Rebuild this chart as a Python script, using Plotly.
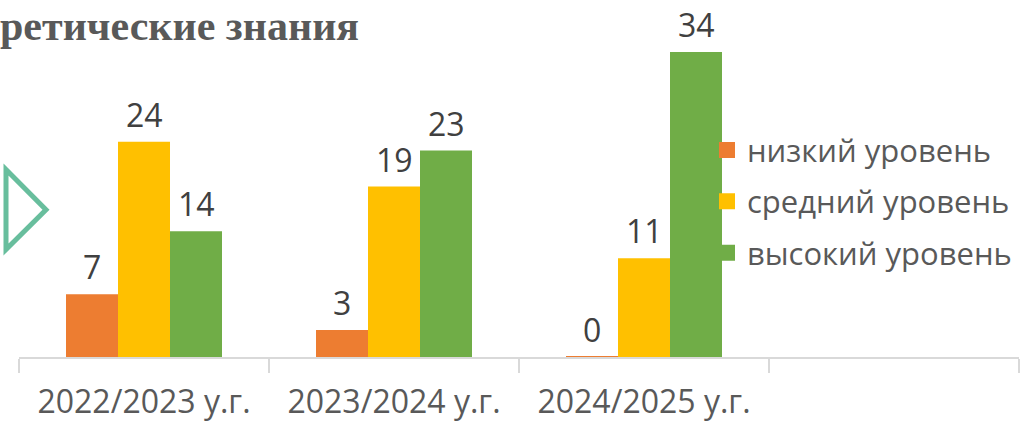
import plotly.graph_objects as go

categories = ["2022/2023 у.г.", "2023/2024 у.г.", "2024/2025 у.г.", " "]
series_names = ["низкий уровень", "средний уровень", "высокий уровень"]
low = [7, 3, 0, None]
mid = [24, 19, 11, None]
high = [14, 23, 34, None]
colors = ["#ED7D31", "#FFC000", "#70AD47"]
title_text = "ретические знания"

BARGAP = 0.376
n_series = len(series_names)
bar_w = (1 - BARGAP) / n_series

fig = go.Figure()
annotations = []
for k, (name, vals, col) in enumerate(zip(series_names, [low, mid, high], colors)):
    fig.add_trace(go.Bar(
        x=categories, y=vals, name=name, showlegend=False,
        marker=dict(color=col,
                    line=dict(color=col, width=[2 if v == 0 else 0 for v in vals])),
    ))
    for i, v in enumerate(vals):
        if v is None:
            continue
        annotations.append(dict(
            x=i + (k - (n_series - 1) / 2) * bar_w, y=v, xref="x", yref="y",
            text=str(v), showarrow=False, xanchor="center", yanchor="bottom", yshift=5,
            borderpad=0,
            font=dict(family="Open Sans", size=32, color="#404040")))
# legend entries with larger square swatches
for name, col in zip(series_names, colors):
    fig.add_trace(go.Scatter(
        x=[None], y=[None], name=name, mode="markers",
        marker=dict(symbol="square", size=16, color=col, line=dict(width=0)),
        legendgroup=name,
    ))

annotations.append(dict(text="<b>" + title_text + "</b>", x=0, y=1, xref="paper", yref="paper",
                        xanchor="left", yanchor="top", xshift=-21, yshift=15, showarrow=False,
                        font=dict(family="Liberation Serif", size=42, color="#595959")))

fig.update_layout(
    width=1025, height=426,
    margin=dict(l=19, r=6, t=16, b=69),
    paper_bgcolor="white", plot_bgcolor="white",
    barmode="group", bargap=BARGAP, bargroupgap=0,
    showlegend=True,
    legend=dict(x=0.688, y=0.685, xanchor="left", yanchor="top",
                font=dict(family="Open Sans", size=31, color="#595959"),
                traceorder="grouped", tracegroupgap=8, itemsizing="trace",
                bgcolor="rgba(0,0,0,0)"),
    xaxis=dict(type="category", categoryorder="array", categoryarray=categories,
               range=[-0.5, 3.5], showline=True, linecolor="#d9d9d9", linewidth=2,
               ticks="outside", tickson="boundaries", ticklen=14, tickcolor="#d9d9d9",
               tickwidth=2, ticklabelstandoff=16, automargin=False,
               tickfont=dict(family="Open Sans", size=32, color="#595959"),
               showgrid=False, fixedrange=True),
    yaxis=dict(range=[0, 38], visible=False, showgrid=False, fixedrange=True, automargin=False),
    annotations=annotations,
    shapes=[dict(type="path", xref="paper", yref="paper",
                 path="M -0.013 0.55 L 0.027 0.432 L -0.013 0.315 Z",
                 line=dict(color="rgba(77,179,140,0.85)", width=5), layer="below")],
)

fig.write_html("out.html", config={"displayModeBar": False},
               post_script="document.body.style.margin='0';document.body.style.overflow='hidden';")
